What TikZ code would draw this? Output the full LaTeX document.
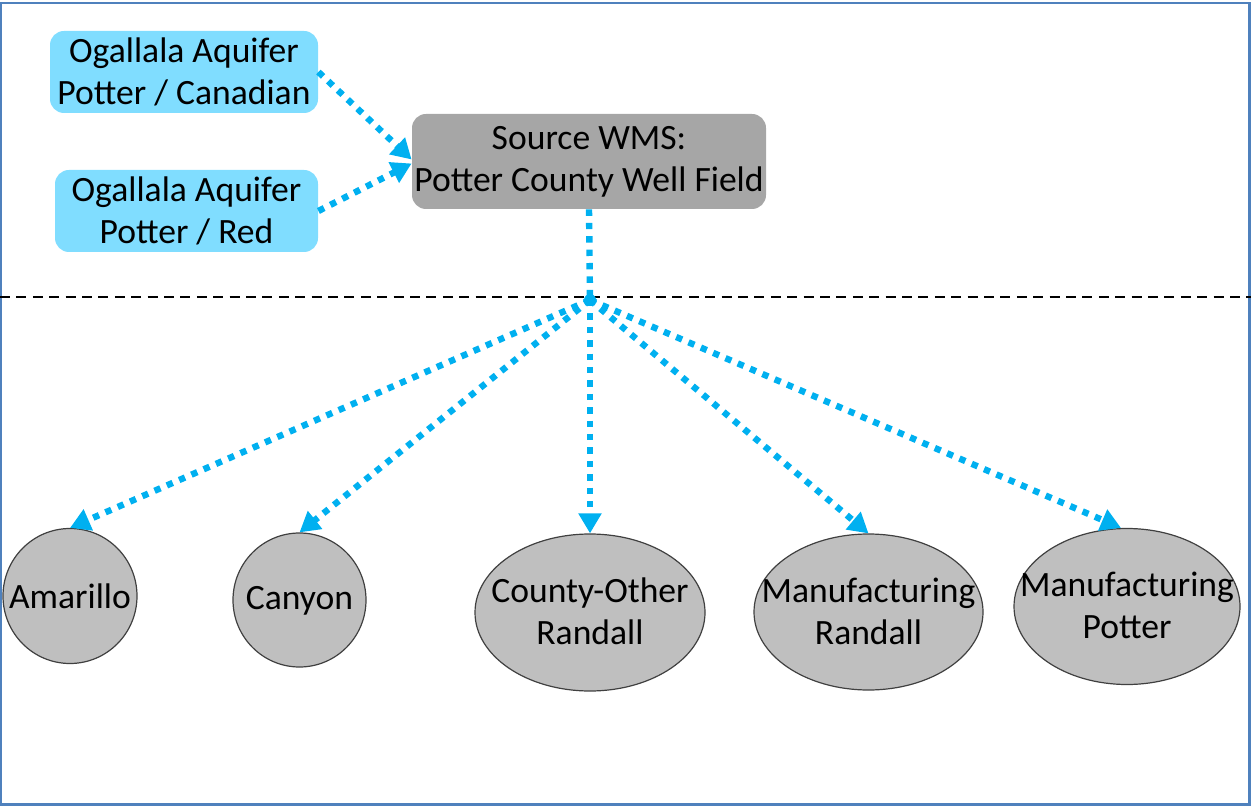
\documentclass[tikz,border=0pt]{standalone}
\usepackage{fontspec}
\setmainfont{Carlito}
\usetikzlibrary{shapes.geometric,arrows.meta}
\definecolor{aqfill}{HTML}{80DDFF}
\definecolor{srcfill}{HTML}{A6A6A6}
\definecolor{demfill}{HTML}{BFBFBF}
\definecolor{flow}{HTML}{00B0F0}
\definecolor{frame}{HTML}{4F81BD}
\tikzset{
  txt/.style={font=\fontsize{17.8}{21}\selectfont},
  aquifer/.style={txt, draw=none, fill=aqfill, rounded corners=7pt, minimum width=134pt, minimum height=41pt, align=center, inner sep=0pt},
  source/.style={txt, draw=none, fill=srcfill, rounded corners=7pt, minimum width=177pt, minimum height=47.5pt, align=center, inner sep=0pt},
  demand/.style={ellipse, draw=black!75, line width=0.6pt, fill=demfill, inner sep=0pt},
  demlabel/.style={txt, align=center, inner sep=0pt},
  flowline/.style={draw=flow, line width=3.2pt, dash pattern=on 3.2pt off 3.5pt},
  flowarrow/.style={flowline, -{Triangle[length=10pt,width=11pt]}},
}
\begin{document}
\begin{tikzpicture}[x=0.5pt,y=-0.5pt]
\useasboundingbox (0,0) rectangle (1251,806);
\draw[frame, line width=1.2pt] (1,3) rectangle (1249.5,804.5);
\draw[black, line width=0.9pt, dash pattern=on 5pt off 3.2pt] (0,297) -- (1251,297);

\node[aquifer] (aq1) at (184,72) {Ogallala Aquifer\\Potter / Canadian};
\node[aquifer, minimum width=131.5pt] (aq2) at (186.5,211) {Ogallala Aquifer\\Potter / Red};
\node[source] (src) at (589,161.5) {Source WMS:\\Potter County Well Field};
\coordinate (hub) at (590,300);

\node[demand, minimum width=67pt, minimum height=67.5pt] (ama) at (70,596) {};
\node[demand, minimum width=66.5pt, minimum height=67pt] (can) at (299.5,600) {};
\node[demand, minimum width=115pt, minimum height=78.5pt] (cor) at (590,612.5) {};
\node[demand, minimum width=114.5pt, minimum height=78pt] (mfr) at (868.5,612) {};
\node[demand, minimum width=113pt, minimum height=78pt] (mfp) at (1127,606.5) {};
\node[demlabel] (amat) at ([yshift=-0.3pt]ama.center) {Amarillo};
\node[demlabel] (cant) at ([yshift=-0.3pt]can.center) {Canyon};
\node[demlabel] (cort) at ([yshift=0.4pt]cor.center) {County-Other\\Randall};
\node[demlabel] (mfrt) at ([yshift=0.4pt]mfr.center) {Manufacturing\\Randall};
\node[demlabel] (mfpt) at ([yshift=0.4pt]mfp.center) {Manufacturing\\Potter};

\draw[flowarrow] (aq1.east) -- ([yshift=1pt]src.west);
\draw[flowarrow] (aq2.east) -- ([yshift=-1pt]src.west);
\draw[flowline] (src.south) -- (hub);
\fill[flow] (hub) circle (3pt);
\draw[flowarrow] (hub) -- (ama.north);
\draw[flowarrow] (hub) -- (can.north);
\draw[flowarrow] (hub) -- (cor.north);
\draw[flowarrow] (hub) -- (mfr.north);
\draw[flowarrow] (hub) -- ([xshift=-3pt]mfp.north);
\end{tikzpicture}
\end{document}
